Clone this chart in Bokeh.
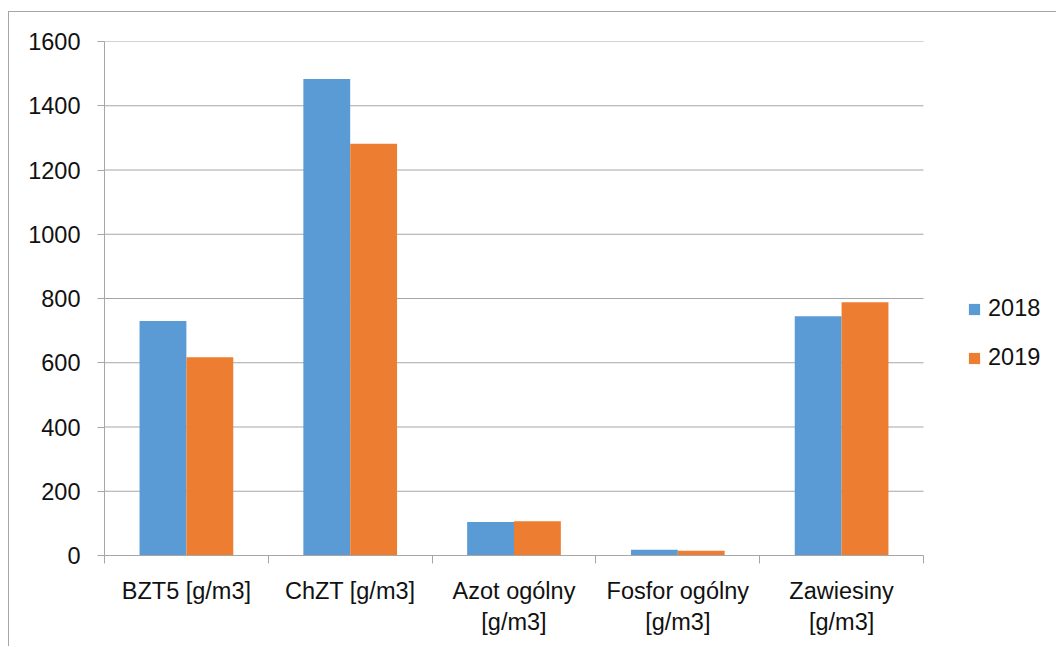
import numpy as np
from bokeh.plotting import figure
from bokeh.models import (ColumnDataSource, FixedTicker, SingleIntervalTicker,
                          Range1d, Legend, LegendItem)
from bokeh.embed import file_html
from bokeh.resources import INLINE

categories = ["BZT5 [g/m3]", "ChZT [g/m3]", "Azot ogólny\n[g/m3]",
              "Fosfor ogólny\n[g/m3]", "Zawiesiny\n[g/m3]"]
series_names = ["2018", "2019"]
values_2018 = [730, 1483, 104, 18, 745]
values_2019 = [617, 1282, 107, 15, 788]
y_ticks_step = 200
y_max = 1600

BLUE = "#5B9BD5"
ORANGE = "#ED7D31"
GRID = "#A6A6A6"
FONT = "Liberation Sans"
FSIZE = "23.5px"
TXT = "#111111"

W, H = 1048, 635
LEFT, TOP, BOTTOM = 95, 29, 92
PLOT_W = 819           # pixel width of the category area
FRAME_W = W - LEFT     # frame extends to the right edge (legend lives inside)

n = len(categories)
pos = np.arange(1, n + 1)
bar_w = 0.286
x_start = 0.5
x_end_cat = n + 0.5
x_end = x_start + n * FRAME_W / PLOT_W

src = ColumnDataSource(dict(x1=pos - bar_w / 2, x2=pos + bar_w / 2,
                            y2018=values_2018, y2019=values_2019))

grid_y = list(range(y_ticks_step, y_max + 1, y_ticks_step))
grid_src = ColumnDataSource(dict(y=grid_y, x0=[x_start] * len(grid_y),
                                 x1=[x_end_cat] * len(grid_y)))

p = figure(width=W, height=H, output_backend="svg", toolbar_location=None,
           x_range=Range1d(x_start, x_end), y_range=Range1d(0, y_max),
           min_border_left=LEFT, min_border_top=TOP, min_border_right=0,
           min_border_bottom=BOTTOM)
p.outline_line_color = None
p.background_fill_color = "white"
p.border_fill_color = "white"
p.styles = {"border-left": "1px solid #A6A6A6", "border-top": "1px solid #A6A6A6",
            "margin-top": "11px", "margin-left": "8px"}

p.segment(x0="x0", x1="x1", y0="y", y1="y", source=grid_src,
          line_color=GRID, line_width=1)

r1 = p.vbar(x="x1", top="y2018", width=bar_w, source=src, fill_color=BLUE,
            line_color=None)
r2 = p.vbar(x="x2", top="y2019", width=bar_w, source=src, fill_color=ORANGE,
            line_color=None)

# x axis
xa = p.xaxis[0]
xa.bounds = (x_start, x_end_cat)
xa.ticker = FixedTicker(ticks=list(pos), minor_ticks=list(np.arange(0.5, n + 1, 1.0)))
xa.major_label_overrides = {int(k): c for k, c in zip(pos, categories)}
xa.major_tick_line_color = None
xa.major_tick_out = 0
xa.major_tick_in = 0
xa.minor_tick_line_color = GRID
xa.minor_tick_out = 8
xa.minor_tick_in = 0
xa.axis_line_color = GRID
xa.major_label_standoff = 14
xa.major_label_text_font = FONT
xa.major_label_text_font_size = FSIZE
xa.major_label_text_color = TXT
xa.major_label_text_align = "center"

# y axis
ya = p.yaxis[0]
ya.ticker = SingleIntervalTicker(interval=y_ticks_step)
ya.major_tick_line_color = GRID
ya.major_tick_out = 7
ya.major_tick_in = 0
ya.minor_tick_line_color = None
ya.axis_line_color = GRID
ya.major_label_standoff = 17
ya.major_label_text_font = FONT
ya.major_label_text_font_size = FSIZE
ya.major_label_text_color = TXT

p.xgrid.grid_line_color = None
p.ygrid.grid_line_color = None

legend = Legend(items=[LegendItem(label=series_names[0], renderers=[r1]),
                       LegendItem(label=series_names[1], renderers=[r2])],
                location=(863, 184))
legend.glyph_width = 14
legend.glyph_height = 14
legend.label_standoff = 7
legend.spacing = 22
legend.padding = 0
legend.margin = 0
legend.border_line_color = None
legend.background_fill_alpha = 0
legend.label_text_font = FONT
legend.label_text_font_size = FSIZE
legend.label_text_color = TXT
p.add_layout(legend, "center")

open("out.html", "w").write(file_html(p, INLINE))
